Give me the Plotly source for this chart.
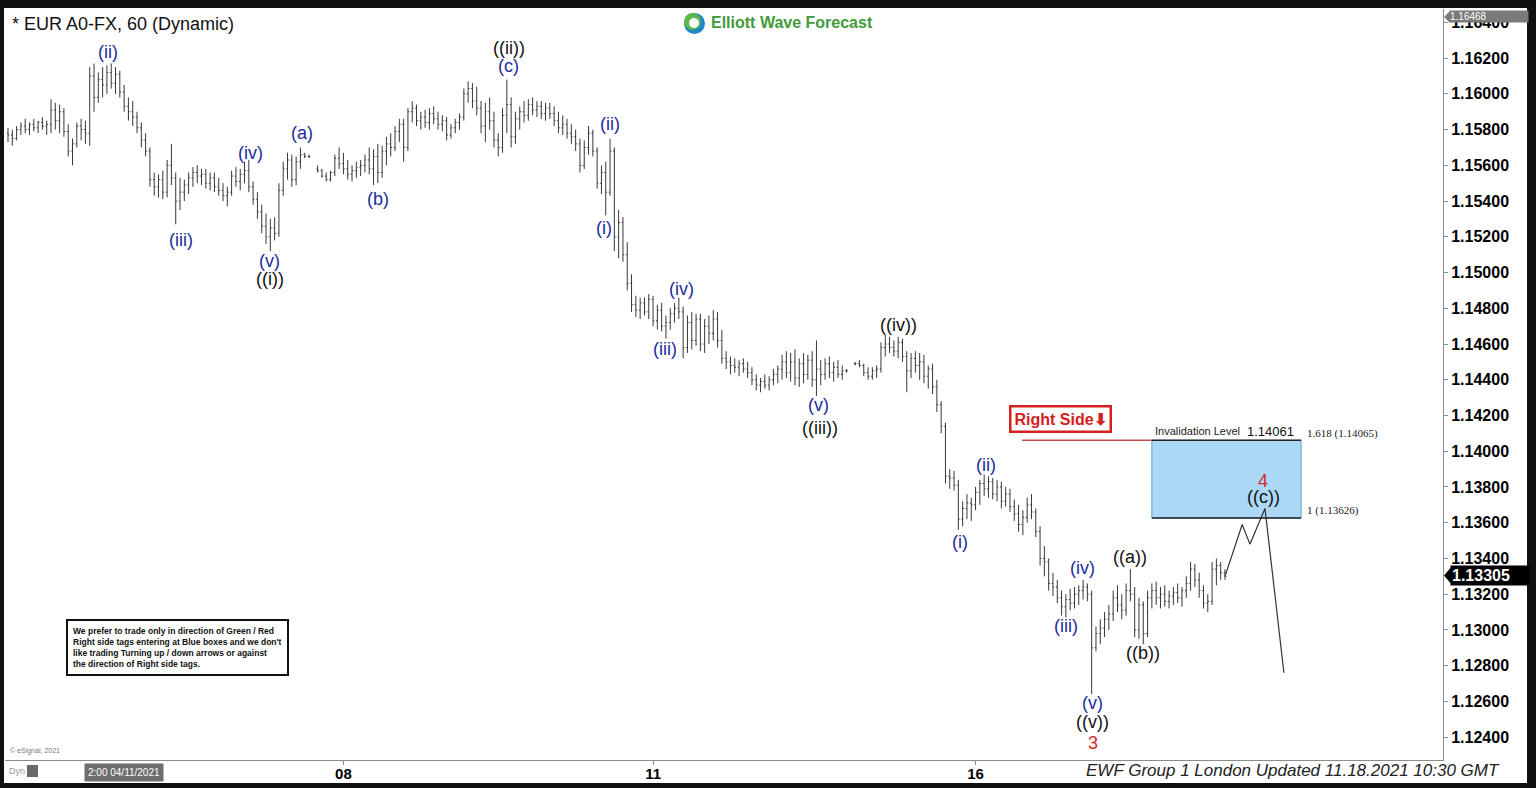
import plotly.graph_objects as go

W, H = 1536, 788
FONT = "Arial, Liberation Sans, sans-serif"

# hourly EUR/USD bars (index 0 = first bar on the left), None = weekend gap
opens = [
    1.1578, 1.1577, 1.1575, 1.1580, 1.1582, 1.1580, 1.1583, 1.1581, 1.1584, 1.1582,
    1.1583, 1.1591, 1.1585, 1.1590, 1.1579, 1.1568, 1.1572, 1.1582, 1.1580, 1.1578,
    1.1610, 1.1598, 1.1608, 1.1605, 1.1612, 1.1606, 1.1611, 1.1601, 1.1593, 1.1590,
    1.1587, 1.1581, 1.1574, 1.1568, 1.1552, 1.1548, 1.1552, 1.1545, 1.1560, 1.1553,
    1.1540, 1.1545, 1.1549, 1.1553, 1.1556, 1.1554, 1.1555, 1.1550, 1.1553, 1.1548,
    1.1546, 1.1543, 1.1545, 1.1554, 1.1551, 1.1555, 1.1557, 1.1548, 1.1541, 1.1534,
    1.1526, 1.1520, 1.1525, 1.1522, 1.1546, 1.1558, 1.1563, 1.1552, 1.1562, 1.1566,
    1.1565, None, 1.1558, 1.1557, 1.1554, 1.1552, 1.1556, 1.1564, 1.1561, 1.1558,
    1.1555, 1.1557, 1.1559, 1.1560, 1.1563, 1.1558, 1.1565, 1.1556, 1.1568, 1.1572,
    1.1570, 1.1579, 1.1583, 1.1570, 1.1590, 1.1592, 1.1585, 1.1587, 1.1584, 1.1589,
    1.1586, 1.1583, 1.1585, 1.1577, 1.1581, 1.1584, 1.1587, 1.1600, 1.1603, 1.1596,
    1.1592, 1.1582, 1.1590, 1.1585, 1.1574, 1.1570, 1.1588, 1.1594, 1.1576, 1.1586,
    1.1590, 1.1588, 1.1594, 1.1591, 1.1593, 1.1589, 1.1592, 1.1589, 1.1585, 1.1581,
    1.1583, 1.1578, 1.1576, 1.1572, 1.1560, 1.1570, 1.1578, 1.1568, 1.1550, 1.1556,
    1.1545, 1.1568, 1.1520, 1.1528, 1.1510, 1.1494, 1.1482, 1.1479, 1.1483, 1.1478,
    1.1485, 1.1473, 1.1479, 1.1470, 1.1472, 1.1477, 1.1480, 1.1478, 1.1458, 1.1472,
    1.1462, 1.1474, 1.1460, 1.1470, 1.1466, 1.1474, 1.1462, 1.1452, 1.1450, 1.1448,
    1.1447, 1.1449, 1.1446, 1.1444, 1.1440, 1.1437, 1.1439, 1.1437, 1.1440, 1.1443,
    1.1446, 1.1450, 1.1444, 1.1450, 1.1441, 1.1449, 1.1443, 1.1451, 1.1440, 1.1446,
    1.1443, 1.1449, 1.1444, 1.1447, 1.1443, 1.1445, None, 1.1449, 1.1449, 1.1448,
    1.1444, 1.1442, 1.1445, 1.1446, 1.1458, 1.1460, 1.1458, 1.1456, 1.1461, 1.1453,
    1.1445, 1.1452, 1.1448, 1.1450, 1.1442, 1.1446, 1.1436, 1.1426, 1.1414, 1.1386,
    1.1385, 1.1381, 1.1362, 1.1368, 1.1371, 1.1370, 1.1377, 1.1382, 1.1379, 1.1383,
    1.1376, 1.1380, 1.1372, 1.1376, 1.1369, 1.1365, 1.1359, 1.1363, 1.1370, 1.1366,
    1.1355, 1.1340, 1.1338, 1.1326, 1.1324, 1.1318, 1.1313, 1.1317, 1.1315, 1.1320,
    1.1322, 1.1324, 1.1320, 1.1290, 1.1298, 1.1301, 1.1306, 1.1309, 1.1318, 1.1314,
    1.1311, 1.1322, 1.1320, 1.1300, 1.1314, 1.1298, 1.1318, 1.1322, 1.1318, 1.1320,
    1.1316, 1.1319, 1.1321, 1.1318, 1.1322, 1.1326, 1.1334, 1.1328, 1.1322, 1.1315,
    1.1316, 1.1334, 1.1336, 1.1332,
]
highs = [
    1.1581, 1.1580, 1.1582, 1.1584, 1.1586, 1.1584, 1.1586, 1.1585, 1.1587, 1.1585,
    1.1597, 1.1595, 1.1594, 1.1592, 1.1583, 1.1575, 1.1584, 1.1586, 1.1585, 1.1615,
    1.1617, 1.1612, 1.1615, 1.1616, 1.1617, 1.1615, 1.1613, 1.1605, 1.1598, 1.1596,
    1.1590, 1.1584, 1.1578, 1.1570, 1.1556, 1.1555, 1.1557, 1.1563, 1.1572, 1.1556,
    1.1553, 1.1552, 1.1556, 1.1559, 1.1560, 1.1558, 1.1558, 1.1556, 1.1556, 1.1553,
    1.1550, 1.1548, 1.1557, 1.1559, 1.1558, 1.1562, 1.1563, 1.1551, 1.1545, 1.1538,
    1.1533, 1.1530, 1.1531, 1.1550, 1.1562, 1.1567, 1.1566, 1.1565, 1.1570, 1.1567,
    1.1566, None, 1.1560, 1.1558, 1.1556, 1.1557, 1.1566, 1.1570, 1.1567, 1.1563,
    1.1560, 1.1562, 1.1563, 1.1566, 1.1570, 1.1569, 1.1572, 1.1571, 1.1576, 1.1578,
    1.1582, 1.1586, 1.1586, 1.1592, 1.1596, 1.1594, 1.1590, 1.1591, 1.1592, 1.1593,
    1.1590, 1.1588, 1.1587, 1.1583, 1.1586, 1.1589, 1.1603, 1.1607, 1.1606, 1.1604,
    1.1596, 1.1595, 1.1598, 1.1590, 1.1578, 1.1592, 1.1608, 1.1598, 1.1590, 1.1593,
    1.1596, 1.1597, 1.1598, 1.1596, 1.1596, 1.1595, 1.1595, 1.1593, 1.1590, 1.1588,
    1.1586, 1.1583, 1.1580, 1.1575, 1.1574, 1.1582, 1.1580, 1.1570, 1.1560, 1.1562,
    1.1575, 1.1570, 1.1535, 1.1531, 1.1517, 1.1499, 1.1487, 1.1486, 1.1486, 1.1488,
    1.1487, 1.1482, 1.1483, 1.1476, 1.1480, 1.1483, 1.1486, 1.1481, 1.1476, 1.1478,
    1.1477, 1.1477, 1.1474, 1.1476, 1.1479, 1.1478, 1.1468, 1.1456, 1.1453, 1.1452,
    1.1451, 1.1452, 1.1450, 1.1447, 1.1443, 1.1441, 1.1443, 1.1442, 1.1446, 1.1448,
    1.1454, 1.1456, 1.1455, 1.1457, 1.1452, 1.1455, 1.1454, 1.1456, 1.1462, 1.1451,
    1.1452, 1.1453, 1.1450, 1.1451, 1.1448, 1.1446, None, 1.1450, 1.1451, 1.1449,
    1.1447, 1.1447, 1.1448, 1.1461, 1.1465, 1.1464, 1.1462, 1.1464, 1.1463, 1.1456,
    1.1455, 1.1456, 1.1455, 1.1454, 1.1448, 1.1449, 1.1440, 1.1428, 1.1416, 1.1390,
    1.1389, 1.1384, 1.1372, 1.1376, 1.1374, 1.1380, 1.1384, 1.1387, 1.1386, 1.1385,
    1.1384, 1.1383, 1.1380, 1.1379, 1.1373, 1.1370, 1.1367, 1.1374, 1.1376, 1.1368,
    1.1358, 1.1347, 1.1340, 1.1332, 1.1328, 1.1322, 1.1320, 1.1323, 1.1324, 1.1325,
    1.1328, 1.1326, 1.1322, 1.1302, 1.1306, 1.1310, 1.1314, 1.1322, 1.1325, 1.1320,
    1.1326, 1.1334, 1.1324, 1.1318, 1.1316, 1.1322, 1.1326, 1.1327, 1.1324, 1.1325,
    1.1322, 1.1324, 1.1326, 1.1324, 1.1330, 1.1338, 1.1337, 1.1332, 1.1325, 1.1320,
    1.1338, 1.1340, 1.1338, 1.1334,
]
lows = [
    1.1573, 1.1571, 1.1574, 1.1577, 1.1578, 1.1577, 1.1579, 1.1578, 1.1580, 1.1577,
    1.1578, 1.1580, 1.1578, 1.1576, 1.1565, 1.1560, 1.1570, 1.1574, 1.1572, 1.1571,
    1.1590, 1.1595, 1.1598, 1.1600, 1.1603, 1.1600, 1.1598, 1.1590, 1.1585, 1.1582,
    1.1578, 1.1570, 1.1565, 1.1548, 1.1543, 1.1542, 1.1541, 1.1542, 1.1549, 1.1527,
    1.1535, 1.1540, 1.1544, 1.1548, 1.1550, 1.1549, 1.1547, 1.1546, 1.1545, 1.1543,
    1.1540, 1.1537, 1.1543, 1.1548, 1.1546, 1.1550, 1.1545, 1.1538, 1.1530, 1.1522,
    1.1516, 1.1512, 1.1518, 1.1520, 1.1543, 1.1552, 1.1548, 1.1549, 1.1558, 1.1564,
    1.1564, None, 1.1556, 1.1553, 1.1551, 1.1551, 1.1554, 1.1558, 1.1555, 1.1552,
    1.1551, 1.1553, 1.1554, 1.1556, 1.1555, 1.1549, 1.1550, 1.1553, 1.1560, 1.1565,
    1.1568, 1.1573, 1.1562, 1.1568, 1.1584, 1.1582, 1.1580, 1.1581, 1.1580, 1.1583,
    1.1580, 1.1579, 1.1574, 1.1575, 1.1578, 1.1580, 1.1585, 1.1595, 1.1592, 1.1588,
    1.1578, 1.1573, 1.1580, 1.1570, 1.1565, 1.1567, 1.1578, 1.1570, 1.1572, 1.1580,
    1.1584, 1.1585, 1.1588, 1.1587, 1.1586, 1.1585, 1.1586, 1.1582, 1.1578, 1.1577,
    1.1575, 1.1572, 1.1568, 1.1556, 1.1558, 1.1566, 1.1565, 1.1547, 1.1544, 1.1532,
    1.1543, 1.1512, 1.1508, 1.1506, 1.1490, 1.1478, 1.1475, 1.1474, 1.1476, 1.1474,
    1.1470, 1.1468, 1.1467, 1.1463, 1.1468, 1.1472, 1.1474, 1.1452, 1.1455, 1.1457,
    1.1459, 1.1456, 1.1455, 1.1460, 1.1462, 1.1458, 1.1449, 1.1446, 1.1443, 1.1444,
    1.1442, 1.1444, 1.1441, 1.1437, 1.1434, 1.1433, 1.1435, 1.1434, 1.1437, 1.1438,
    1.1440, 1.1441, 1.1439, 1.1437, 1.1436, 1.1438, 1.1440, 1.1436, 1.1431, 1.1437,
    1.1440, 1.1441, 1.1439, 1.1441, 1.1440, 1.1444, None, 1.1448, 1.1447, 1.1442,
    1.1440, 1.1440, 1.1441, 1.1444, 1.1453, 1.1455, 1.1453, 1.1452, 1.1450, 1.1433,
    1.1441, 1.1444, 1.1440, 1.1438, 1.1435, 1.1432, 1.1422, 1.1410, 1.1382, 1.1379,
    1.1378, 1.1356, 1.1358, 1.1362, 1.1361, 1.1367, 1.1370, 1.1375, 1.1374, 1.1373,
    1.1372, 1.1368, 1.1369, 1.1366, 1.1361, 1.1355, 1.1353, 1.1360, 1.1362, 1.1352,
    1.1336, 1.1330, 1.1322, 1.1319, 1.1315, 1.1308, 1.1307, 1.1311, 1.1312, 1.1314,
    1.1317, 1.1316, 1.1264, 1.1288, 1.1292, 1.1296, 1.1300, 1.1305, 1.1310, 1.1306,
    1.1308, 1.1316, 1.1296, 1.1295, 1.1292, 1.1296, 1.1312, 1.1314, 1.1312, 1.1313,
    1.1312, 1.1314, 1.1315, 1.1313, 1.1318, 1.1322, 1.1324, 1.1318, 1.1312, 1.1310,
    1.1314, 1.1325, 1.1328, 1.1328,
]
closes = [
    1.1577, 1.1575, 1.1580, 1.1582, 1.1580, 1.1583, 1.1581, 1.1584, 1.1582, 1.1583,
    1.1591, 1.1585, 1.1590, 1.1579, 1.1568, 1.1572, 1.1582, 1.1580, 1.1578, 1.1610,
    1.1598, 1.1608, 1.1605, 1.1612, 1.1606, 1.1611, 1.1601, 1.1593, 1.1590, 1.1587,
    1.1581, 1.1574, 1.1568, 1.1552, 1.1548, 1.1552, 1.1545, 1.1560, 1.1553, 1.1540,
    1.1545, 1.1549, 1.1553, 1.1556, 1.1554, 1.1555, 1.1550, 1.1553, 1.1548, 1.1546,
    1.1543, 1.1545, 1.1554, 1.1551, 1.1555, 1.1557, 1.1548, 1.1541, 1.1534, 1.1526,
    1.1520, 1.1525, 1.1522, 1.1546, 1.1558, 1.1563, 1.1552, 1.1562, 1.1566, 1.1565,
    1.1565, None, 1.1557, 1.1554, 1.1552, 1.1556, 1.1564, 1.1561, 1.1558, 1.1555,
    1.1557, 1.1559, 1.1560, 1.1563, 1.1558, 1.1565, 1.1556, 1.1568, 1.1572, 1.1570,
    1.1579, 1.1583, 1.1570, 1.1590, 1.1592, 1.1585, 1.1587, 1.1584, 1.1589, 1.1586,
    1.1583, 1.1585, 1.1577, 1.1581, 1.1584, 1.1587, 1.1600, 1.1603, 1.1596, 1.1592,
    1.1582, 1.1590, 1.1585, 1.1574, 1.1570, 1.1588, 1.1594, 1.1576, 1.1586, 1.1590,
    1.1588, 1.1594, 1.1591, 1.1593, 1.1589, 1.1592, 1.1589, 1.1585, 1.1581, 1.1583,
    1.1578, 1.1576, 1.1572, 1.1560, 1.1570, 1.1578, 1.1568, 1.1550, 1.1556, 1.1545,
    1.1568, 1.1520, 1.1528, 1.1510, 1.1494, 1.1482, 1.1479, 1.1483, 1.1478, 1.1485,
    1.1473, 1.1479, 1.1470, 1.1472, 1.1477, 1.1480, 1.1478, 1.1458, 1.1472, 1.1462,
    1.1474, 1.1460, 1.1470, 1.1466, 1.1474, 1.1462, 1.1452, 1.1450, 1.1448, 1.1447,
    1.1449, 1.1446, 1.1444, 1.1440, 1.1437, 1.1439, 1.1437, 1.1440, 1.1443, 1.1446,
    1.1450, 1.1444, 1.1450, 1.1441, 1.1449, 1.1443, 1.1451, 1.1440, 1.1446, 1.1443,
    1.1449, 1.1444, 1.1447, 1.1443, 1.1445, 1.1445, None, 1.1449, 1.1448, 1.1444,
    1.1442, 1.1445, 1.1446, 1.1458, 1.1460, 1.1458, 1.1456, 1.1461, 1.1453, 1.1445,
    1.1452, 1.1448, 1.1450, 1.1442, 1.1446, 1.1436, 1.1426, 1.1414, 1.1386, 1.1385,
    1.1381, 1.1362, 1.1368, 1.1371, 1.1370, 1.1377, 1.1382, 1.1379, 1.1383, 1.1376,
    1.1380, 1.1372, 1.1376, 1.1369, 1.1365, 1.1359, 1.1363, 1.1370, 1.1366, 1.1355,
    1.1340, 1.1338, 1.1326, 1.1324, 1.1318, 1.1313, 1.1317, 1.1315, 1.1320, 1.1322,
    1.1324, 1.1320, 1.1290, 1.1298, 1.1301, 1.1306, 1.1309, 1.1318, 1.1314, 1.1311,
    1.1322, 1.1320, 1.1300, 1.1314, 1.1298, 1.1318, 1.1322, 1.1318, 1.1320, 1.1316,
    1.1319, 1.1321, 1.1318, 1.1322, 1.1326, 1.1334, 1.1328, 1.1322, 1.1315, 1.1316,
    1.1334, 1.1336, 1.1332, 1.1330,
]

day_ticks = [78, 150, 225]
day_labels = ["08", "11", "16"]

# projected path drawn after the last bar
path_x = [283, 287, 288.8, 292.3, 296.7]
path_y = [1.1330, 1.1359, 1.1348, 1.1368, 1.1276]

box_x = [266.0, 300.7]
box_low, box_high = 1.13626, 1.14061
line_start = 235.8
last_price = 1.13305

# wave labels by degree
minute_text = ["(ii)", "(iii)", "(iv)", "(v)", "(a)", "(b)", "(c)", "(i)", "(ii)",
               "(iii)", "(iv)", "(v)", "(i)", "(ii)", "(iii)", "(iv)", "(v)"]
minute_x = [23.3, 40.2, 56.3, 60.9, 68.4, 86.0, 116.3, 138.6, 140.0,
            152.8, 156.5, 188.4, 221.4, 227.4, 246.0, 249.8, 252.3]
minute_y = [1.16234, 1.15182, 1.15669, 1.15064, 1.15781, 1.15411, 1.16156, 1.15249, 1.15831,
            1.14572, 1.14908, 1.14259, 1.13492, 1.13923, 1.13022, 1.13346, 1.12591]

minor_text = ["((i))", "((ii))", "((iii))", "((iv))", "((v))", "((a))", "((b))", "((c))"]
minor_x = [60.9, 116.5, 188.8, 207.0, 252.3, 260.9, 264.0, 291.9]
minor_y = [1.14964, 1.16256, 1.14130, 1.14706, 1.12485, 1.13408, 1.12871, 1.13744]

inter_text = ["3", "4"]
inter_x = [252.3, 291.9]
inter_y = [1.12367, 1.13833]


def px(x):
    return x / W


def py(y):
    return 1 - y / H


def note(x, y, text, xanchor="center", **kw):
    # text placed in page pixels
    return dict(xref="paper", yref="paper", x=px(x), y=py(y), text=text,
                xanchor=xanchor, yanchor="middle", showarrow=False, **kw)


fig = go.Figure()

fig.add_trace(go.Ohlc(
    x=list(range(len(opens))), open=opens, high=highs, low=lows, close=closes,
    increasing=dict(line=dict(color="#383838", width=1)),
    decreasing=dict(line=dict(color="#383838", width=1)),
    tickwidth=0.3, hoverinfo="skip",
))

fig.add_trace(go.Scatter(
    x=path_x, y=path_y, mode="lines",
    line=dict(color="#333333", width=1.2), hoverinfo="skip",
))

shapes = [
    # white page inside the dark frame
    dict(type="rect", xref="paper", yref="paper", x0=px(4), x1=px(1527),
         y0=py(783), y1=py(8), fillcolor="white", line=dict(width=0), layer="below"),
    # blue target box
    dict(type="rect", x0=box_x[0], x1=box_x[1], y0=box_low, y1=box_high,
         fillcolor="#abd8f7", line=dict(color="#5b9bd0", width=1), layer="below"),
    dict(type="line", x0=box_x[0], x1=box_x[1], y0=box_high, y1=box_high,
         line=dict(color="#222222", width=1.5)),
    dict(type="line", x0=box_x[0], x1=box_x[1], y0=box_low, y1=box_low,
         line=dict(color="#222222", width=1.5)),
    dict(type="line", x0=line_start, x1=box_x[0], y0=box_high, y1=box_high,
         line=dict(color="#c0504d", width=1.5)),
    # last-price arrow tag
    dict(type="path", xref="paper", yref="y",
         path=f"M {px(1444)},{last_price} L {px(1451)},{last_price + 0.00046} "
              f"L {px(1451)},{last_price - 0.00046} Z",
         fillcolor="black", line=dict(width=0)),
    dict(type="path", xref="paper", yref="paper",
         path=f"M {px(1444)},{py(17)} L {px(1450)},{py(11)} L {px(1450)},{py(23)} Z",
         fillcolor="#7a7a7a", line=dict(width=0)),
    # logo icon
    dict(type="circle", xref="paper", yref="paper", x0=px(684), x1=px(705),
         y0=py(34), y1=py(13), fillcolor="#1e88c8", line=dict(width=0)),
    dict(type="circle", xref="paper", yref="paper", x0=px(684), x1=px(701),
         y0=py(30), y1=py(13), fillcolor="#5cb84a", line=dict(width=0)),
    dict(type="circle", xref="paper", yref="paper", x0=px(689), x1=px(699),
         y0=py(28), y1=py(18), fillcolor="white", line=dict(width=0)),
    # Dyn icon
    dict(type="rect", xref="paper", yref="paper", x0=px(27), x1=px(38),
         y0=py(777), y1=py(765), fillcolor="#6a6a6a", line=dict(width=0)),
]

annotations = []
for text, x, y in zip(minute_text, minute_x, minute_y):
    annotations.append(dict(x=x, y=y, text=text, showarrow=False,
                            font=dict(family=FONT, size=18, color="#1d2c9c")))
for text, x, y in zip(minor_text, minor_x, minor_y):
    annotations.append(dict(x=x, y=y, text=text, showarrow=False,
                            font=dict(family=FONT, size=18, color="#111111")))
for text, x, y in zip(inter_text, inter_x, inter_y):
    annotations.append(dict(x=x, y=y, text=text, showarrow=False,
                            font=dict(family=FONT, size=18, color="#d42a2a")))

annotations += [
    note(10, 24, "* EUR A0-FX, 60 (Dynamic)", xanchor="left",
         font=dict(family=FONT, size=18, color="#111111")),
    note(709, 23, "<b>Elliott Wave Forecast</b>", xanchor="left",
         font=dict(family=FONT, size=16, color="#3f9a3a")),
    note(1502, 770, "<i>EWF Group 1 London Updated 11.18.2021 10:30 GMT</i>", xanchor="right",
         font=dict(family=FONT, size=17, color="#222222")),
    note(124, 772, "2:00 04/11/2021", bgcolor="#6e6e6e", borderpad=3,
         font=dict(family=FONT, size=10, color="white")),
    note(7, 771, "Dyn", xanchor="left", font=dict(family=FONT, size=9, color="#9a9a9a")),
    note(8, 751, "© eSignal, 2021", xanchor="left",
         font=dict(family=FONT, size=7, color="#777777")),
    note(177, 647,
         "<b>We prefer to trade only in direction of Green / Red<br>"
         "Right side tags entering at Blue boxes and we don't<br>"
         "like trading Turning up / down arrows or against<br>"
         "the direction of Right side tags.</b>",
         align="left", bgcolor="white", bordercolor="#111111",
         borderwidth=2, borderpad=5, font=dict(family=FONT, size=8.5, color="#111111")),
    note(1060, 419, "<b>Right Side⬇</b>", bgcolor="white",
         bordercolor="#d42020", borderwidth=2.5, borderpad=3,
         font=dict(family=FONT, size=16, color="#d42020")),
    dict(x=box_x[0] + 0.2, y=box_high, yshift=9, xanchor="left",
         text="Invalidation Level", showarrow=False,
         font=dict(family=FONT, size=11, color="#222222")),
    dict(x=293.7, y=box_high, yshift=9, text="1.14061", showarrow=False,
         font=dict(family=FONT, size=13, color="#111111")),
    dict(x=box_x[1] + 0.9, y=box_high, yshift=7, xanchor="left",
         text="1.618 (1.14065)", showarrow=False,
         font=dict(family="Liberation Serif, serif", size=11, color="#222222")),
    dict(x=box_x[1] + 0.9, y=box_low, yshift=8, xanchor="left",
         text="1 (1.13626)", showarrow=False,
         font=dict(family="Liberation Serif, serif", size=11, color="#222222")),
    dict(xref="paper", yref="y", x=px(1450), y=last_price, xanchor="left", yanchor="middle",
         text="<b>1.13305</b>", showarrow=False, bgcolor="black", borderpad=1,
         width=76, align="left", font=dict(family=FONT, size=16, color="white")),
    note(1449, 17, "1.16468", xanchor="left", bgcolor="#7a7a7a", borderpad=0,
         width=78, align="left", font=dict(family=FONT, size=10, color="white")),
]

fig.update_layout(
    width=W, height=H,
    margin=dict(l=0, r=0, t=0, b=0),
    paper_bgcolor="#111111",
    plot_bgcolor="white",
    showlegend=False,
    shapes=shapes,
    annotations=annotations,
    xaxis=dict(
        domain=[px(5), px(1443)], range=[-0.7, 333.7],
        tickvals=day_ticks, ticktext=day_labels,
        showgrid=False, zeroline=False, showline=True, linecolor="#8c8c8c",
        ticks="outside", ticklen=4, tickcolor="#8c8c8c", ticklabelstandoff=-4,
        tickfont=dict(family=FONT, size=15, color="black", weight="bold"),
        rangeslider=dict(visible=False), fixedrange=True,
    ),
    yaxis=dict(
        domain=[py(760), py(9)], range=[1.12272, 1.16475], side="right",
        tick0=1.124, dtick=0.002, tickformat=".5f",
        showgrid=False, zeroline=False, showline=True, linecolor="#8c8c8c",
        ticks="outside", ticklen=4, tickcolor="#8c8c8c",
        tickfont=dict(family=FONT, size=16, color="black", weight="bold"),
        fixedrange=True,
    ),
)

# the page is photographed edge to edge, so drop the default body margin
fig.write_html("out.html", config={"displayModeBar": False},
               post_script="document.body.style.margin = '0px';")
